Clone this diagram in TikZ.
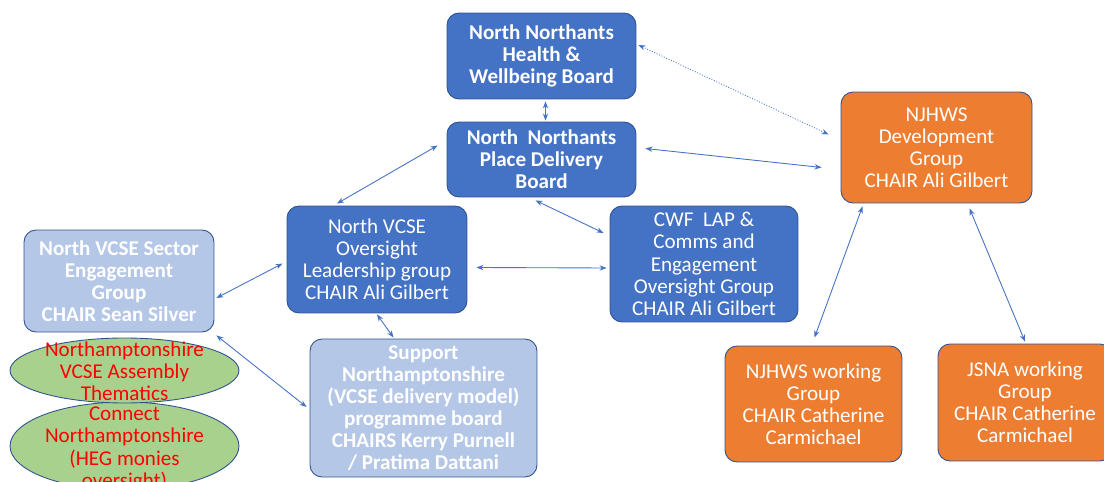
\documentclass[tikz,border=0pt]{standalone}
\usepackage{fontspec}
\setmainfont{Carlito}
\usetikzlibrary{positioning,calc,arrows.meta,shapes.geometric}
\definecolor{darkblue}{HTML}{4472C4}
\definecolor{lightblue}{HTML}{B4C7E7}
\definecolor{boxline}{HTML}{2F528F}
\definecolor{orangefill}{HTML}{ED7D31}
\definecolor{greenfill}{HTML}{A9D18E}
\tikzset{
  box/.style = {rectangle,rounded corners=0.24cm,draw=boxline,line width=0.5pt,
                text=white,align=center,inner sep=1pt,
                font=\fontsize{12}{12.6}\selectfont},
  board/.style = {box,fill=darkblue,font=\fontsize{12}{12.6}\selectfont\bfseries},
  group/.style = {box,fill=darkblue},
  sector/.style = {box,fill=lightblue,font=\fontsize{12}{12.6}\selectfont\bfseries},
  orangebox/.style = {box,fill=orangefill},
  assembly/.style = {ellipse,draw=boxline,line width=0.5pt,fill=greenfill,inner sep=0pt},
  assemblytext/.style = {text=red,align=center,inner sep=0pt,
                         font=\fontsize{12}{12.6}\selectfont},
  link/.style = {darkblue,line width=0.5pt,
                 {Stealth[length=4pt,width=3pt]}-{Stealth[length=4pt,width=3pt]}}
}
\begin{document}
\begin{tikzpicture}[x=0.02cm,y=-0.02cm]
\useasboundingbox (0,0) rectangle (1104,482);
\begin{scope}
\clip (0,0) rectangle (1104,482);
% boards and groups
\node[board, minimum width=3.78cm, minimum height=1.72cm] (hwb) at (541.5,56)
  {North Northants\\Health \&\\Wellbeing Board};
\node[board, minimum width=3.78cm, minimum height=1.5cm] (pdb) at (541.5,159.5)
  {North\ \ Northants\\Place Delivery\\Board};
\node[orangebox, minimum width=3.82cm, minimum height=2.22cm] (dev) at (936.5,147.5)
  {NJHWS\\Development\\Group\\CHAIR Ali Gilbert};
\node[group, minimum width=3.6cm, minimum height=2.14cm] (ovs) at (377,259.5)
  {North VCSE\\Oversight\\Leadership group\\CHAIR Ali Gilbert};
\node[group, minimum width=3.76cm, minimum height=2.32cm] (cwf) at (704,264)
  {CWF\ \ LAP \&\\Comms and\\Engagement\\Oversight Group\\CHAIR Ali Gilbert};
\node[sector, minimum width=3.8cm, minimum height=2.04cm] (sector) at (119,281)
  {North VCSE Sector\\Engagement\\Group\\CHAIR Sean Silver};
\node[sector, minimum width=4.54cm, minimum height=2.76cm] (support) at (423.5,408)
  {Support\\Northamptonshire\\(VCSE delivery model)\\programme board\\CHAIRS Kerry Purnell\\/ Pratima Dattani};
\node[orangebox, minimum width=3.54cm, minimum height=2.32cm] (work) at (813.5,404)
  {NJHWS working\\Group\\CHAIR Catherine\\Carmichael};
\node[orangebox, minimum width=3.48cm, minimum height=2.34cm] (jsna) at (1025,402.5)
  {JSNA working\\Group\\CHAIR Catherine\\Carmichael};
% assemblies
\node[assembly, minimum width=4.58cm, minimum height=1.76cm] (connect) at (124.5,446) {};
\node[assembly, minimum width=4.58cm, minimum height=1.3cm] (thematics) at (124.5,370.5) {};
\node[assemblytext] (thematicstext) at (124.5,371)
  {Northamptonshire\\VCSE Assembly\\Thematics};
\node[assemblytext] (connecttext) at (124.5,449)
  {Connect\\Northamptonshire\\(HEG monies\\oversight)};
\end{scope}
% connectors
\draw[link] ($(hwb.south)+(4,2)$) -- ($(pdb.north)+(4,-1)$);
\draw[link,densely dotted] ($(hwb.east)+(2,-11)$) -- ($(dev.west)+(-12,-13)$);
\draw[link] ($(pdb.east)+(9,-11)$) -- ($(dev.west)+(-19,20)$);
\draw[link] ($(pdb.west)+(-9,-14)$) -- ($(ovs.north)+(-40,-2)$);
\draw[link] ($(pdb.south)+(-6,3)$) -- ($(cwf.west)+(-6,-31)$);
\draw[link] ($(ovs.west)+(-4,4)$) -- ($(sector.east)+(2,17)$);
\draw[link] ($(ovs.east)+(9,8)$) -- ($(cwf.west)+(-3,4)$);
\draw[link] ($(ovs.south)+(0,1)$) -- ($(support.north)+(-30,-1)$);
\draw[link] ($(sector.south east)+(2,3)$) -- ($(support.west)+(-3,-1)$);
\draw[link] ($(dev.south)+(-74,3)$) -- ($(work.north)+(1,-8)$);
\draw[link] ($(dev.south)+(33,5)$) -- ($(jsna.north)+(0,-2)$);
\end{tikzpicture}
\end{document}
